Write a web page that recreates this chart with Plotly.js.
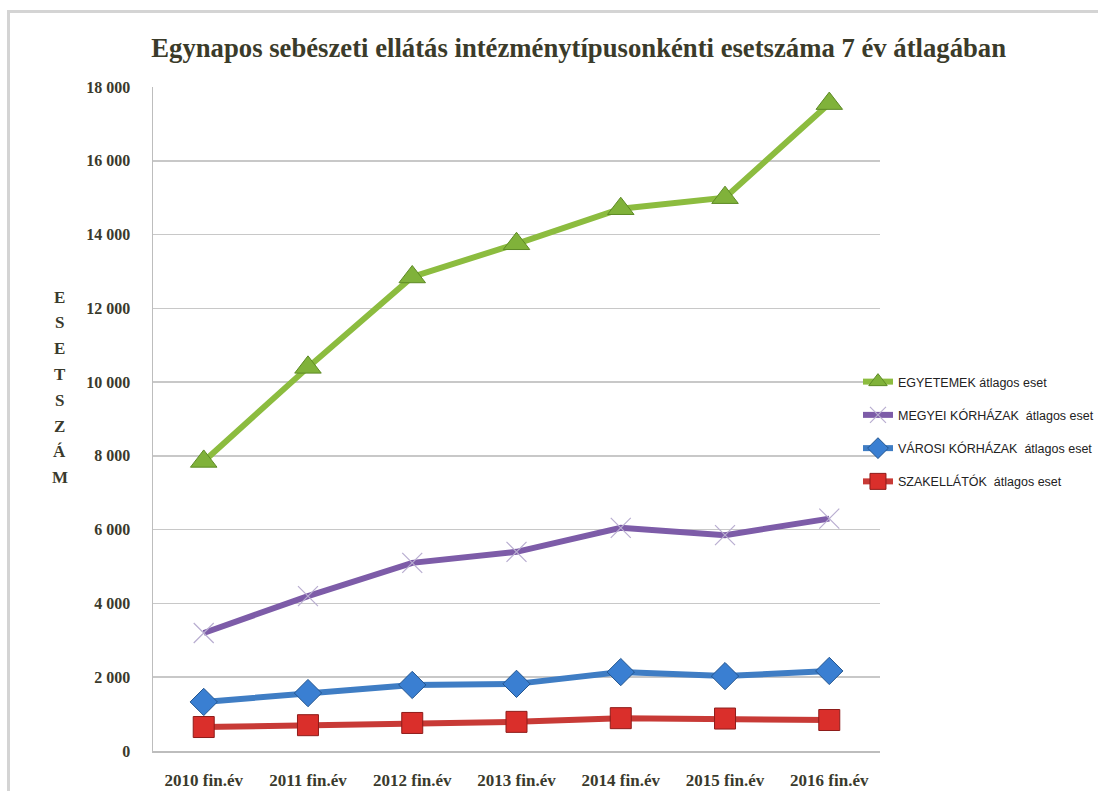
<!DOCTYPE html>
<html>
<head>
<meta charset="utf-8">
<script src="https://cdn.plot.ly/plotly-3.0.1.min.js"></script>
<style>
  html, body { margin: 0; padding: 0; background: #fff; }
  #frame { position: absolute; left: 7px; top: 10px; width: 1091px; height: 781px;
           border-top: 3px solid #d4d4d4; border-left: 3px solid #d4d4d4; box-sizing: border-box; }
  #chart { position: absolute; left: 0; top: 0; width: 1098px; height: 791px; }
</style>
</head>
<body>
<div id="frame"></div>
<div id="chart"></div>
<script>
const categories = ["2010 fin.év", "2011 fin.év", "2012 fin.év", "2013 fin.év", "2014 fin.év", "2015 fin.év", "2016 fin.év"];
const egyetemek = [7850, 10400, 12850, 13750, 14700, 15000, 17550];
const megyei = [3200, 4200, 5100, 5400, 6050, 5850, 6300];
const varosi = [1330, 1570, 1790, 1820, 2140, 2030, 2170];
const szakellatok = [650, 700, 760, 790, 890, 880, 840];
const seriesNames = ["EGYETEMEK átlagos eset", "MEGYEI KÓRHÁZAK  átlagos eset", "VÁROSI KÓRHÁZAK  átlagos eset", "SZAKELLÁTÓK  átlagos eset"];
const yTicks = [0, 2000, 4000, 6000, 8000, 10000, 12000, 14000, 16000, 18000];
const yLetters = ["E", "S", "E", "T", "S", "Z", "Á", "M"];

const traces = [
  { x: categories, y: egyetemek, name: seriesNames[0], legendgroup: "a", type: "scatter", mode: "lines+markers",
    line: { color: "#8cbc3f", width: 6 },
    marker: { symbol: "triangle-up", size: 23, color: "#80b23a", line: { color: "#5d8a25", width: 1 } } },
  { x: categories, y: megyei, name: seriesNames[1], legendgroup: "b", type: "scatter", mode: "lines+markers",
    line: { color: "#7d5ca8", width: 6 },
    marker: { symbol: "x-thin", size: 20, color: "#c0b6d4", line: { color: "#b8add0", width: 1.2 } } },
  { x: categories, y: varosi, name: seriesNames[2], legendgroup: "c", type: "scatter", mode: "lines+markers",
    line: { color: "#3f7dc4", width: 6 },
    marker: { symbol: "diamond", size: 21, color: "#3a7fd2", line: { color: "#23558f", width: 1 } } },
  { x: categories, y: szakellatok, name: seriesNames[3], legendgroup: "d", type: "scatter", mode: "lines+markers",
    line: { color: "#c83a36", width: 6 },
    marker: { symbol: "square", size: 21, color: "#da2f2b", line: { color: "#8e1c1a", width: 1 } } }
];

const annotations = yLetters.map((ch, i) => ({
  text: ch, xref: "paper", yref: "paper", x: -0.128, y: (751 - (297 + i * 25.8)) / 664,
  showarrow: false, xanchor: "center", yanchor: "middle",
  font: { family: "Liberation Serif, serif", size: 17, color: "#3a3a2c", weight: "bold" }
}));

const layout = {
  width: 1098, height: 791,
  margin: { l: 153, r: 218, t: 87, b: 40, autoexpand: false },
  paper_bgcolor: "rgba(0,0,0,0)", plot_bgcolor: "rgba(0,0,0,0)",
  separators: ", ",
  showlegend: true,
  title: { text: "<b>Egynapos sebészeti ellátás intézménytípusonkénti esetszáma 7 év átlagában</b>",
           x: 0.527, xanchor: "center", y: 0.94, yanchor: "middle",
           font: { family: "Liberation Serif, serif", size: 26.7, color: "#3b3b2a" } },
  xaxis: { type: "category", showgrid: false, showline: true, linecolor: "#bdbdbd", linewidth: 1.5,
           ticks: "", ticklabelstandoff: 13, automargin: false,
           tickfont: { family: "Liberation Serif, serif", size: 17, color: "#3a3a2c", weight: "bold" } },
  yaxis: { range: [0, 18000], tickvals: yTicks, tickformat: ",d", showgrid: true, gridcolor: "#c8c8c8", gridwidth: 1.5,
           showline: true, linecolor: "#bdbdbd", linewidth: 1.5, zeroline: false, ticks: "", ticklabelstandoff: 18,
           automargin: false,
           tickfont: { family: "Liberation Serif, serif", size: 16, color: "#3a3a2c", weight: "bold" } },
  legend: { xref: "container", yref: "container", x: 0.7814, xanchor: "left", y: 1 - 367 / 791, yanchor: "top",
            bgcolor: "rgba(0,0,0,0)", tracegroupgap: 14, itemwidth: 30,
            font: { family: "Liberation Sans Narrow, Liberation Sans, sans-serif", size: 12.5, color: "#222" } },
  annotations: annotations
};

Plotly.newPlot("chart", traces, layout, { displayModeBar: false, staticPlot: true });
</script>
</body>
</html>
